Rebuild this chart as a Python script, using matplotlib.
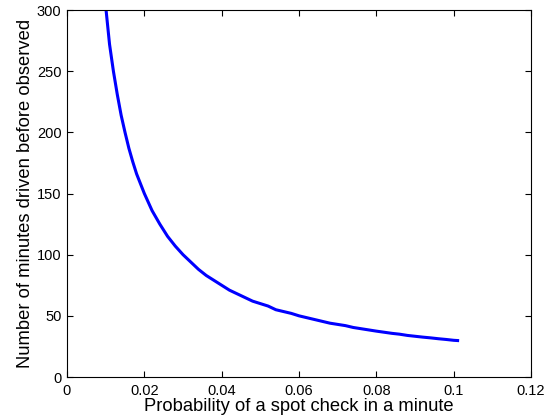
import numpy as np
import matplotlib
matplotlib.use("Agg")
import matplotlib.pyplot as plt

plt.rcParams['font.family'] = ['Liberation Sans', 'DejaVu Sans']

# probability of a spot check per minute vs. minutes driven before being observed
prob = [0.0101, 0.011, 0.012, 0.013, 0.014, 0.015, 0.016, 0.017, 0.018, 0.019,
        0.020, 0.022, 0.024, 0.026, 0.028, 0.030, 0.032, 0.034, 0.036, 0.038,
        0.040, 0.042, 0.044, 0.046, 0.048, 0.050, 0.052, 0.054, 0.056, 0.058,
        0.060, 0.062, 0.064, 0.066, 0.068, 0.070, 0.072, 0.074, 0.076, 0.078,
        0.080, 0.082, 0.084, 0.086, 0.088, 0.090, 0.092, 0.094, 0.096, 0.098,
        0.100, 0.101]
minutes = [300, 272, 250, 231, 214, 200, 187, 176, 166, 158,
           150, 136, 125, 115, 107, 100, 94, 88, 83, 79,
           75, 71, 68, 65, 62, 60, 58, 55, 53.5, 52,
           50, 48.5, 47, 45.5, 44, 43, 42, 40.5, 39.5, 38.5,
           37.5, 36.6, 35.7, 35, 34, 33.3, 32.6, 32, 31.3, 30.7,
           30, 29.8]

xticks = [0, 0.02, 0.04, 0.06, 0.08, 0.1, 0.12]
xticklabels = ['0', '0.02', '0.04', '0.06', '0.08', '0.1', '0.12']
yticks = [0, 50, 100, 150, 200, 250, 300]

fig = plt.figure(figsize=(5.46, 4.17), dpi=100)
ax = fig.add_axes([0.1227, 0.0959, 0.85, 0.8801])
ax.plot(prob, minutes, color='#0000ff', lw=2.2)

ax.set_xlim(0, 0.12)
ax.set_ylim(0, 300)
ax.set_xticks(xticks)
ax.set_xticklabels(xticklabels)
ax.set_yticks(yticks)
ax.tick_params(direction='in', length=4, labelsize=10.5, top=True, right=True,
               labeltop=False, labelright=False)
ax.tick_params(axis='x', pad=5)
ax.tick_params(axis='y', pad=4)
ax.set_xlabel('Probability of a spot check in a minute', fontsize=13.2, labelpad=0)
ax.set_ylabel('Number of minutes driven before observed', fontsize=13.2, labelpad=2)

fig.savefig('out.png', dpi=100)
